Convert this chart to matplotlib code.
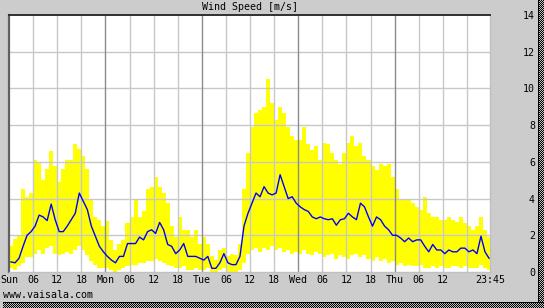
import numpy as np
import matplotlib
matplotlib.use("Agg")
import matplotlib.pyplot as plt

# ---- data (hourly, m/s) ----
sun_avg = [0.55, 0.5, 0.75, 1.4, 2.0, 2.2, 2.5, 3.1, 3.0, 2.8, 3.7, 2.85, 2.2, 2.2, 2.5, 2.85, 3.2, 4.3, 3.85, 3.4, 2.5, 1.95, 1.4, 1.1]
sun_max = [1.4, 1.8, 2.0, 4.5, 4.1, 4.3, 6.1, 6.0, 5.0, 5.6, 6.6, 5.8, 4.9, 5.6, 6.1, 6.1, 7.0, 6.7, 6.3, 5.6, 3.9, 3.0, 2.85, 2.5]
sun_min = [0.2, 0.1, 0.3, 0.5, 0.8, 0.8, 1.0, 1.2, 1.0, 1.3, 1.4, 1.0, 0.9, 1.0, 1.1, 1.0, 1.2, 1.4, 1.2, 0.9, 0.6, 0.4, 0.2, 0.2]

mon_avg = [0.85, 0.65, 0.5, 0.85, 0.85, 1.55, 1.55, 1.55, 1.9, 1.75, 2.2, 2.3, 2.1, 2.7, 2.3, 1.5, 1.4, 1.0, 1.2, 1.55, 0.85, 0.85, 0.85, 0.75]
mon_max = [2.8, 1.75, 1.2, 1.55, 1.75, 2.65, 3.0, 3.9, 3.0, 3.3, 4.5, 4.65, 5.2, 4.65, 4.3, 3.75, 2.5, 1.9, 3.0, 2.3, 2.3, 1.9, 2.3, 1.55]
mon_min = [0.2, 0.1, 0.0, 0.1, 0.2, 0.3, 0.4, 0.4, 0.5, 0.5, 0.6, 0.6, 0.7, 0.6, 0.5, 0.4, 0.3, 0.2, 0.2, 0.3, 0.1, 0.1, 0.2, 0.1]

tue_avg = [0.65, 0.85, 0.2, 0.2, 0.5, 1.0, 0.5, 0.4, 0.4, 0.85, 2.5, 3.2, 3.75, 4.3, 4.1, 4.65, 4.3, 4.2, 4.3, 5.3, 4.65, 4.0, 4.1, 3.75]
tue_max = [1.9, 1.55, 0.85, 0.65, 1.2, 1.3, 0.85, 1.0, 0.9, 1.55, 4.5, 6.5, 7.9, 8.65, 8.8, 9.0, 10.5, 9.2, 8.3, 9.0, 8.65, 7.9, 7.4, 7.2]
tue_min = [0.1, 0.2, 0.0, 0.0, 0.1, 0.2, 0.0, 0.0, 0.0, 0.1, 0.5, 1.0, 1.2, 1.3, 1.1, 1.3, 1.2, 1.4, 1.2, 1.3, 1.1, 1.2, 1.0, 1.1]

wed_avg = [3.55, 3.4, 3.3, 3.0, 2.9, 3.0, 2.9, 2.85, 2.9, 2.55, 2.85, 2.9, 3.2, 3.0, 2.85, 3.75, 3.55, 3.0, 2.5, 3.0, 2.85, 2.5, 2.3, 2.0]
wed_max = [7.2, 7.9, 7.0, 6.65, 6.85, 6.1, 7.0, 7.0, 6.5, 6.1, 5.9, 6.5, 7.0, 7.4, 6.85, 7.0, 6.3, 6.1, 5.75, 5.55, 5.9, 5.75, 5.9, 5.2]
wed_min = [1.0, 1.2, 1.0, 0.9, 1.1, 1.0, 0.8, 0.9, 1.0, 0.7, 0.9, 0.8, 0.7, 0.9, 1.0, 0.8, 0.9, 0.7, 0.6, 0.8, 0.6, 0.7, 0.5, 0.6]

thu_avg = [2.0, 1.85, 1.65, 1.85, 1.65, 1.75, 1.75, 1.4, 1.1, 1.5, 1.2, 1.2, 1.0, 1.2, 1.1, 1.1, 1.3, 1.3, 1.1, 1.2, 1.0, 1.95, 1.1, 0.75]
thu_max = [4.5, 3.9, 3.9, 3.9, 3.75, 3.55, 3.4, 4.1, 3.2, 3.0, 3.0, 2.85, 2.85, 3.0, 2.85, 2.75, 3.0, 2.65, 2.5, 2.3, 2.5, 3.0, 2.3, 1.9]
thu_min = [0.4, 0.5, 0.3, 0.4, 0.3, 0.3, 0.4, 0.2, 0.2, 0.3, 0.2, 0.3, 0.2, 0.2, 0.3, 0.3, 0.2, 0.3, 0.2, 0.2, 0.2, 0.4, 0.2, 0.1]

x_tick_pos = [0, 6, 12, 18, 24, 30, 36, 42, 48, 54, 60, 66, 72, 78, 84, 90, 96, 102, 108, 119.75]
x_tick_labels = ["Sun", "06", "12", "18", "Mon", "06", "12", "18", "Tue", "06", "12", "18",
                 "Wed", "06", "12", "18", "Thu", "06", "12", "23:45"]
y_ticks = [0, 2, 4, 6, 8, 10, 12, 14]
title = "Wind Speed [m/s]"
footer = "www.vaisala.com"

avg = np.array(sun_avg + mon_avg + tue_avg + wed_avg + thu_avg)
vmax = np.array(sun_max + mon_max + tue_max + wed_max + thu_max)
vmin = np.array(sun_min + mon_min + tue_min + wed_min + thu_min)
hours = np.arange(len(avg))

# ---- figure ----
W, H = 544, 308
BG = "#cccccc"
MONO = "DejaVu Sans Mono"
fig = plt.figure(figsize=(W / 100, H / 100), dpi=100, facecolor=BG)
ax = fig.add_axes([9 / W, (H - 272) / H, (490 - 9) / W, (272 - 15) / H])
ax.set_facecolor("white")

ax.bar(hours, vmax - vmin, bottom=vmin, width=1.0, align="edge",
       color="#ffff00", linewidth=0, zorder=2)

# grid
for yv in y_ticks[1:-1]:
    ax.axhline(yv, color="#c8c8c8", lw=1.0, zorder=2.5)
for xv in range(6, 120, 6):
    col = "#8c8c8c" if xv % 24 == 0 else "#c8c8c8"
    ax.axvline(xv, color=col, lw=1.0, zorder=2.5)

ax.plot(hours + 0.5, avg, color="#0000ff", lw=1.0, zorder=3)

ax.set_xlim(0, 119.75)
ax.set_ylim(0, 14)

ax.set_xticks(x_tick_pos)
ax.set_xticklabels(x_tick_labels, family=MONO, fontsize=7.2)
ax.tick_params(axis="x", length=0, pad=2.5, colors="black")

ax.yaxis.tick_right()
ax.set_yticks(y_ticks)
ax.set_yticklabels([str(v) for v in y_ticks], family=MONO, fontsize=7.2, ha="right")
ax.tick_params(axis="y", length=0, pad=32.4, colors="black")

for side in ("right", "bottom"):
    ax.spines[side].set_color("#c0c0c0")
    ax.spines[side].set_linewidth(1.0)
ax.spines["left"].set_color("#606060")
ax.spines["left"].set_linewidth(1.6)
ax.spines["top"].set_color("#303030")
ax.spines["top"].set_linewidth(1.4)

fig.text(249.5 / W, 1 - 7 / H, title, ha="center", va="center", family=MONO, fontsize=7.2)
fig.text(3 / W, 1 - 295 / H, footer, ha="left", va="center", family=MONO, fontsize=7.2)

# checkered shadow on right and bottom
def checker(h, w):
    yy, xx = np.mgrid[0:h, 0:w]
    c = ((yy + xx) % 2).astype(float)
    img = np.where(c[..., None] == 1, 0.0, 0.75) * np.ones((1, 1, 3))
    return img

right = checker(H, 6)
right[:, 0, :] = 0.0
fig.figimage(right, xo=538, yo=0, origin="upper", zorder=5)
bottom = checker(6, W - 3)
bottom[0, :, :] = 0.0
fig.figimage(bottom, xo=3, yo=0, origin="upper", zorder=5)

fig.savefig("out.png", dpi=100, facecolor=BG)
